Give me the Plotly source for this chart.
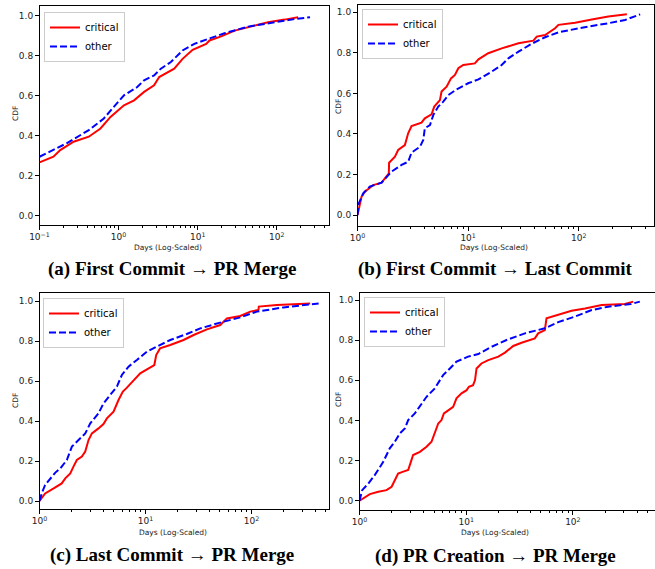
import plotly.graph_objects as go

# ---------------- data (days, CDF) ----------------
a_crit_days = [0.1, 0.15, 0.183, 0.27, 0.42, 0.59, 0.79, 1.17, 1.57, 2.1, 2.81, 3.26, 5.05, 6.44, 8.63, 12.8, 14.1, 19.8, 29.3, 47.6, 77.6, 126, 186]
a_crit_cdf = [0.267, 0.295, 0.328, 0.37, 0.395, 0.436, 0.494, 0.552, 0.577, 0.619, 0.652, 0.693, 0.735, 0.784, 0.829, 0.859, 0.876, 0.896, 0.925, 0.945, 0.967, 0.98, 0.992]
a_other_days = [0.1, 0.22, 0.42, 0.65, 0.87, 1.17, 1.72, 2.1, 2.81, 3.42, 4.58, 6.44, 9.07, 13.4, 21.8, 43.3, 94.4, 170, 263]
a_other_cdf = [0.295, 0.362, 0.428, 0.486, 0.544, 0.602, 0.643, 0.677, 0.701, 0.735, 0.768, 0.826, 0.859, 0.884, 0.912, 0.945, 0.967, 0.983, 0.992]

b_crit_days = [1, 1.035, 1.087, 1.165, 1.39, 1.65, 1.83, 1.92, 1.93, 2.18, 2.33, 2.68, 2.87, 3.08, 3.79, 4.06, 4.67, 4.94, 5.56, 5.75, 6.39, 7.0, 7.6, 8.15, 9.04, 11.5, 12.4, 15.2, 20.1, 28.5, 38.9, 41.7, 49.6, 61.1, 65.5, 92.7, 131, 185, 272]
b_crit_cdf = [0, 0.041, 0.09, 0.115, 0.148, 0.16, 0.189, 0.206, 0.258, 0.288, 0.321, 0.345, 0.403, 0.439, 0.456, 0.477, 0.497, 0.535, 0.567, 0.609, 0.633, 0.674, 0.691, 0.724, 0.74, 0.748, 0.768, 0.798, 0.822, 0.847, 0.86, 0.88, 0.888, 0.921, 0.938, 0.949, 0.965, 0.979, 0.99]
b_other_days = [1, 1.028, 1.126, 1.29, 1.65, 1.9, 2.03, 2.5, 2.87, 3.08, 3.67, 3.93, 4.06, 4.52, 4.84, 5.37, 5.96, 6.62, 7.87, 10, 12.4, 16.3, 20.1, 23.1, 28.5, 37.6, 49.6, 65.5, 99.3, 185, 262, 359]
b_other_cdf = [0, 0.058, 0.107, 0.14, 0.16, 0.197, 0.214, 0.247, 0.263, 0.308, 0.337, 0.37, 0.428, 0.444, 0.493, 0.535, 0.559, 0.592, 0.62, 0.65, 0.669, 0.707, 0.74, 0.773, 0.806, 0.845, 0.877, 0.901, 0.921, 0.946, 0.962, 0.99]

c_crit_days = [1, 1.05, 1.13, 1.36, 1.62, 1.75, 1.95, 2.09, 2.25, 2.51, 2.7, 2.9, 3.12, 3.6, 4.01, 4.32, 4.99, 5.56, 6.11, 6.57, 7.71, 8.91, 10.7, 12.1, 12.6, 13.7, 17.1, 22.8, 28.4, 37.9, 50.6, 58.5, 78.2, 97.1, 116, 117, 173, 357]
c_crit_cdf = [0, 0.013, 0.038, 0.063, 0.088, 0.113, 0.138, 0.172, 0.205, 0.222, 0.247, 0.305, 0.338, 0.363, 0.385, 0.413, 0.447, 0.505, 0.547, 0.563, 0.605, 0.638, 0.663, 0.68, 0.73, 0.763, 0.78, 0.805, 0.83, 0.858, 0.88, 0.913, 0.925, 0.947, 0.955, 0.972, 0.98, 0.988]
c_other_days = [1, 1.05, 1.13, 1.26, 1.41, 1.57, 1.81, 2.02, 2.33, 2.7, 3.01, 3.6, 4.01, 4.64, 5.37, 5.98, 6.91, 8.28, 10.3, 12.8, 17.1, 24.5, 32.8, 50.6, 78.2, 112, 200, 429]
c_other_cdf = [0, 0.038, 0.08, 0.113, 0.142, 0.163, 0.205, 0.272, 0.305, 0.338, 0.388, 0.438, 0.488, 0.53, 0.572, 0.63, 0.672, 0.705, 0.747, 0.772, 0.805, 0.835, 0.863, 0.892, 0.918, 0.947, 0.968, 0.988]

d_crit_days = [1, 1.08, 1.25, 1.5, 1.79, 2.0, 2.14, 2.3, 2.57, 2.86, 3.03, 3.18, 3.68, 4.25, 4.73, 5.08, 5.47, 5.87, 6.18, 6.54, 7.55, 8.11, 9.04, 10.1, 10.6, 11.6, 12.1, 12.5, 13.9, 16.1, 20, 23.1, 27.6, 33, 44, 47.3, 54.6, 56.6, 72.9, 97.2, 130, 186, 307, 368]
d_crit_cdf = [0, 0.012, 0.033, 0.045, 0.053, 0.07, 0.103, 0.136, 0.145, 0.153, 0.194, 0.228, 0.244, 0.269, 0.294, 0.336, 0.385, 0.402, 0.435, 0.444, 0.468, 0.51, 0.535, 0.551, 0.568, 0.576, 0.601, 0.659, 0.684, 0.701, 0.718, 0.738, 0.771, 0.787, 0.809, 0.834, 0.85, 0.909, 0.925, 0.947, 0.958, 0.975, 0.98, 0.992]
d_other_days = [1, 1.06, 1.21, 1.39, 1.67, 1.92, 2.14, 2.39, 2.66, 2.86, 3.3, 3.81, 4.25, 5.08, 5.66, 6.08, 7.03, 8.11, 10.4, 13, 17.3, 23.9, 35.5, 54.6, 72.9, 104, 150, 214, 350, 424]
d_other_cdf = [0, 0.053, 0.086, 0.128, 0.194, 0.261, 0.294, 0.336, 0.36, 0.402, 0.435, 0.485, 0.518, 0.56, 0.601, 0.626, 0.659, 0.693, 0.718, 0.731, 0.767, 0.801, 0.834, 0.859, 0.89, 0.917, 0.95, 0.967, 0.98, 0.992]

captions = ["(a) First Commit → PR Merge", "(b) First Commit → Last Commit",
            "(c) Last Commit → PR Merge", "(d) PR Creation → PR Merge"]
series_names = ["critical", "other"]
y_ticks = [0.0, 0.2, 0.4, 0.6, 0.8, 1.0]
y_ticklabels = ["0.0", "0.2", "0.4", "0.6", "0.8", "1.0"]
x_ticks_a = [0.1, 1, 10, 100]
x_ticklabels_a = ["10<sup>−1</sup>", "10<sup>0</sup>", "10<sup>1</sup>", "10<sup>2</sup>"]
x_ticks = [1, 10, 100]
x_ticklabels = ["10<sup>0</sup>", "10<sup>1</sup>", "10<sup>2</sup>"]

W, H = 655, 569
RED = "#ff0000"
BLUE = "#0000ff"
TICKFONT = dict(family="DejaVu Sans", size=9, color="#222222")

panels = [
    dict(data=(a_crit_days, a_crit_cdf, a_other_days, a_other_cdf), px=(39.5, 329), py=(6, 225),
         xr=[-1.0, 2.66], yr=[-0.046, 1.048], xt=(x_ticks_a, x_ticklabels_a),
         xtitle=(168, 247.5), ytitle=(15, 114), cap=(172, 269), leg=(44, 12)),
    dict(data=(b_crit_days, b_crit_cdf, b_other_days, b_other_cdf), px=(357.5, 654), py=(5, 226),
         xr=[0.0, 2.68], yr=[-0.054, 1.036], xt=(x_ticks, x_ticklabels),
         xtitle=(494, 247.5), ytitle=(338, 106), cap=(495, 269), leg=(362, 9)),
    dict(data=(c_crit_days, c_crit_cdf, c_other_days, c_other_cdf), px=(39.5, 329), py=(293, 509),
         xr=[0.0, 2.73], yr=[-0.04, 1.04], xt=(x_ticks, x_ticklabels),
         xtitle=(173, 532), ytitle=(15, 401), cap=(172, 555), leg=(43, 298)),
    dict(data=(d_crit_days, d_crit_cdf, d_other_days, d_other_cdf), px=(359.5, 654.5), py=(293, 510),
         xr=[0.0, 2.765], yr=[-0.046, 1.035], xt=(x_ticks, x_ticklabels),
         xtitle=(495, 532.5), ytitle=(338, 399), cap=(495, 556), leg=(364, 297)),
]

minor_vals = [m * 10 ** e for e in range(-1, 3) for m in range(2, 10)]

fig = go.Figure()
annotations = []
layout = {}
for i, p in enumerate(panels):
    k = "" if i == 0 else str(i + 1)
    xa, ya = "x" + k, "y" + k
    legname = "legend" + k
    cd, cc, od, oc = p["data"]
    fig.add_trace(go.Scatter(x=cd, y=cc, mode="lines", name=series_names[0],
                             line=dict(color=RED, width=2), xaxis=xa, yaxis=ya, legend=legname))
    fig.add_trace(go.Scatter(x=od, y=oc, mode="lines", name=series_names[1],
                             line=dict(color=BLUE, width=2, dash="7px,3px"), xaxis=xa, yaxis=ya, legend=legname))
    x0, x1 = p["px"]
    y0, y1 = p["py"]
    layout["xaxis" + k] = dict(
        type="log", range=p["xr"], domain=[x0 / W, x1 / W], anchor=ya, automargin=False,
        tickmode="array", tickvals=p["xt"][0], ticktext=p["xt"][1],
        ticks="outside", ticklen=3.5, tickwidth=1, tickcolor="black",
        showline=True, linecolor="black", linewidth=1, mirror=True,
        showgrid=False, zeroline=False, tickfont=TICKFONT,
        minor=dict(tickmode="array", tickvals=minor_vals, ticks="outside", ticklen=2,
                   tickwidth=0.8, tickcolor="black", showgrid=False),
    )
    layout["yaxis" + k] = dict(
        range=p["yr"], domain=[1 - y1 / H, 1 - y0 / H], anchor=xa, automargin=False,
        tickmode="array", tickvals=y_ticks, ticktext=y_ticklabels,
        ticks="outside", ticklen=3.5, tickwidth=1, tickcolor="black",
        showline=True, linecolor="black", linewidth=1, mirror=True,
        showgrid=False, zeroline=False, tickfont=TICKFONT,
    )
    layout[legname] = dict(
        x=p["leg"][0] / W, y=1 - p["leg"][1] / H, xanchor="left", yanchor="top",
        bgcolor="white", bordercolor="#cccccc", borderwidth=1,
        font=dict(family="DejaVu Sans", size=10, color="black"), itemwidth=30,
        tracegroupgap=0,
    )
    annotations.append(dict(text="Days (Log-Scaled)", x=p["xtitle"][0] / W, y=1 - p["xtitle"][1] / H,
                            xref="paper", yref="paper", showarrow=False, xanchor="center", yanchor="middle",
                            font=dict(family="DejaVu Sans", size=7.5, color="#222222")))
    annotations.append(dict(text="CDF", x=p["ytitle"][0] / W, y=1 - p["ytitle"][1] / H, textangle=-90,
                            xref="paper", yref="paper", showarrow=False, xanchor="center", yanchor="middle",
                            font=dict(family="DejaVu Sans", size=7.5, color="#222222")))
    annotations.append(dict(text="<b>" + captions[i] + "</b>", x=p["cap"][0] / W, y=1 - p["cap"][1] / H,
                            xref="paper", yref="paper", showarrow=False, xanchor="center", yanchor="middle",
                            font=dict(family="Liberation Serif", size=19, color="black")))

fig.update_layout(
    width=W, height=H, margin=dict(l=0, r=0, t=0, b=0, autoexpand=False),
    paper_bgcolor="white", plot_bgcolor="white", showlegend=True,
    annotations=annotations, **layout,
)
fig.write_html("out.html", config={"displayModeBar": False},
               post_script="document.body.style.margin='0px';")
